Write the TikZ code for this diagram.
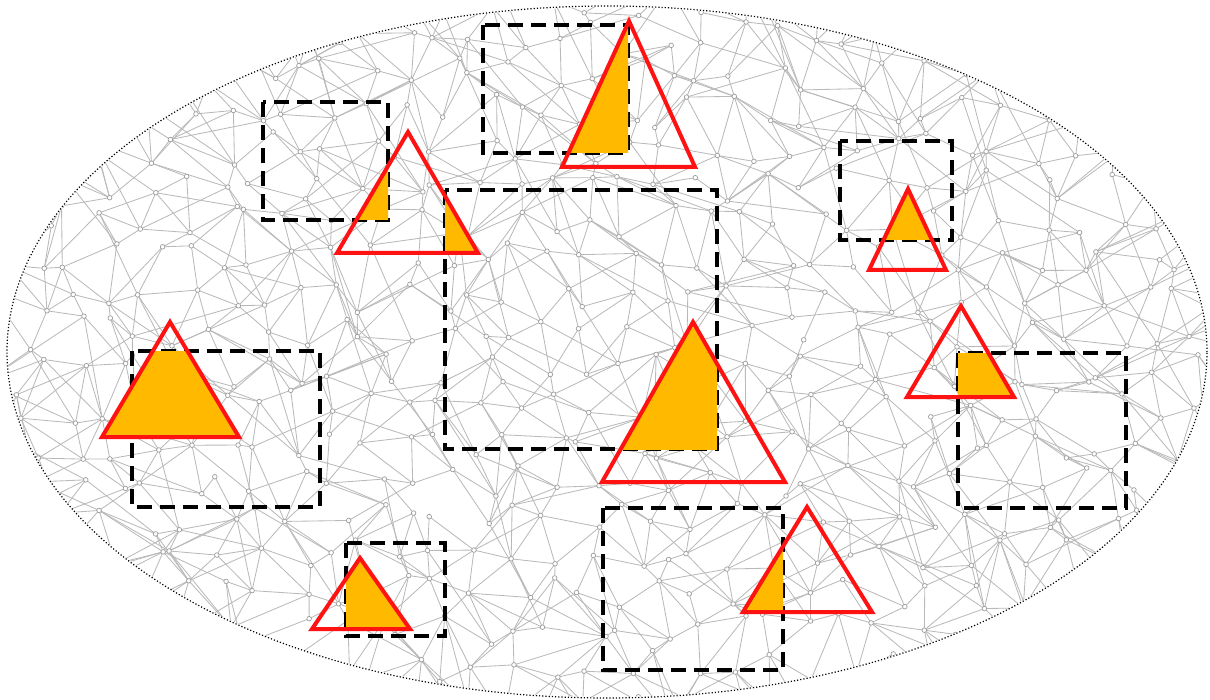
\documentclass[tikz,border=0pt]{standalone}
\definecolor{tricol}{RGB}{255,18,18}
\definecolor{fillor}{RGB}{255,186,0}
\definecolor{netc}{RGB}{185,185,185}
\begin{document}
\begin{tikzpicture}[x=0.5pt,y=-0.5pt,
  net/.style={draw=netc,line width=0.42pt},
  vert/.style={draw=netc!85!black,fill=white,line width=0.35pt},
  box/.style={draw=black,line width=2pt,dash pattern=on 7.5pt off 4pt},
  trio/.style={draw=tricol,line width=2pt,line join=miter},
  hit/.style={fill=fillor}]
\useasboundingbox (0,0) rectangle (1210,700);
% ---------- random network ----------
\pgfmathsetseed{4242}
\foreach \i in {0,...,34}{
  \foreach \j in {-1,...,20}{
    \pgfmathsetmacro\px{\i*37+rand*17}
    \pgfmathsetmacro\py{\j*37+rand*17}
    \coordinate (p-\i-\j) at (\px,\py);
  }
}
\begin{scope}
  \clip (607,352) ellipse [x radius=299.5pt, y radius=172.5pt];
  \foreach \i in {0,...,32}{
    \foreach \j in {0,...,18}{
      \pgfmathtruncatemacro\a{\i+1}
      \pgfmathtruncatemacro\b{\j+1}
      \pgfmathtruncatemacro\c{\j-1}
      \pgfmathtruncatemacro\d{\i+2}
      \pgfmathtruncatemacro\e{\j+2}
      \pgfmathsetmacro\ra{rnd}
      \ifdim\ra pt<0.8pt \draw[net] (p-\i-\j) -- (p-\a-\j); \fi
      \pgfmathsetmacro\rb{rnd}
      \ifdim\rb pt<0.8pt \draw[net] (p-\i-\j) -- (p-\i-\b); \fi
      \pgfmathsetmacro\rc{rnd}
      \ifdim\rc pt<0.4pt \draw[net] (p-\i-\j) -- (p-\a-\b); \else
        \ifdim\rc pt<0.8pt \draw[net] (p-\a-\j) -- (p-\i-\b); \fi\fi
      \pgfmathsetmacro\rd{rnd}
      \ifdim\rd pt<0.25pt \draw[net] (p-\i-\j) -- (p-\d-\b); \fi
      \ifdim\rd pt>0.75pt \draw[net] (p-\i-\j) -- (p-\a-\e); \fi
      \pgfmathsetmacro\rf{rnd}
      \ifdim\rf pt<0.2pt \draw[net] (p-\i-\j) -- (p-\d-\c); \fi
    }
  }
  \foreach \i in {0,...,33}{
    \foreach \j in {0,...,19}{
      \draw[vert] (p-\i-\j) circle [radius=1.15pt];
    }
  }
\end{scope}
\draw[line width=0.6pt,densely dotted] (607,352) ellipse [x radius=300pt, y radius=173pt];
% ---------- dashed boxes ----------
\coordinate (r1a) at (263,102); \coordinate (r1b) at (388,220);
\coordinate (r2a) at (483,25);  \coordinate (r2b) at (628,153);
\coordinate (r3a) at (445,190); \coordinate (r3b) at (717,449);
\coordinate (r4a) at (840,141); \coordinate (r4b) at (952,240);
\coordinate (r5a) at (132,351); \coordinate (r5b) at (320,507);
\coordinate (r6a) at (958,353); \coordinate (r6b) at (1126,508);
\coordinate (r7a) at (346,543); \coordinate (r7b) at (445,636);
\coordinate (r8a) at (603,508); \coordinate (r8b) at (783,670);
\foreach \k in {1,...,8}{ \draw[box] (r\k a) rectangle (r\k b); }
% ---------- triangles ----------
\coordinate (t1a) at (408,132); \coordinate (t1b) at (337,253); \coordinate (t1c) at (478,253);
\coordinate (t2a) at (629,21);  \coordinate (t2b) at (562,167); \coordinate (t2c) at (695,167);
\coordinate (t3a) at (908,189); \coordinate (t3b) at (869,270); \coordinate (t3c) at (946,270);
\coordinate (t4a) at (170,322); \coordinate (t4b) at (102,437); \coordinate (t4c) at (239,437);
\coordinate (t5a) at (693,322); \coordinate (t5b) at (602,482); \coordinate (t5c) at (785,482);
\coordinate (t6a) at (961,306); \coordinate (t6b) at (907,397); \coordinate (t6c) at (1014,397);
\coordinate (t7a) at (360,558); \coordinate (t7b) at (312,629); \coordinate (t7c) at (410,629);
\coordinate (t8a) at (807,507); \coordinate (t8b) at (743,612); \coordinate (t8c) at (872,612);
% orange overlaps
\begin{scope}\clip (r1a) rectangle (r1b); \fill[hit] (t1a)--(t1b)--(t1c)--cycle;\end{scope}
\begin{scope}\clip (r3a) rectangle (r3b); \fill[hit] (t1a)--(t1b)--(t1c)--cycle;\end{scope}
\begin{scope}\clip (r2a) rectangle (r2b); \fill[hit] (t2a)--(t2b)--(t2c)--cycle;\end{scope}
\begin{scope}\clip (r4a) rectangle (r4b); \fill[hit] (t3a)--(t3b)--(t3c)--cycle;\end{scope}
\begin{scope}\clip (0,351) rectangle (r5b); \fill[hit] (t4a)--(t4b)--(t4c)--cycle;\end{scope}
\begin{scope}\clip (r3a) rectangle (r3b); \fill[hit] (t5a)--(t5b)--(t5c)--cycle;\end{scope}
\begin{scope}\clip (r6a) rectangle (r6b); \fill[hit] (t6a)--(t6b)--(t6c)--cycle;\end{scope}
\begin{scope}\clip (r7a) rectangle (r7b); \fill[hit] (t7a)--(t7b)--(t7c)--cycle;\end{scope}
\begin{scope}\clip (r8a) rectangle (r8b); \fill[hit] (t8a)--(t8b)--(t8c)--cycle;\end{scope}
\foreach \k in {1,...,8}{ \draw[trio] (t\k a) -- (t\k b) -- (t\k c) -- cycle; }
\end{tikzpicture}
\end{document}
